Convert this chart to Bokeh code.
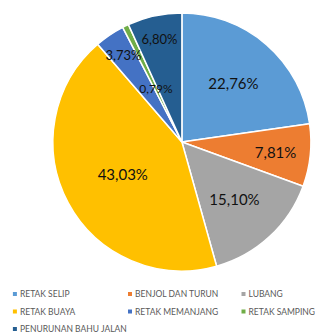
import numpy as np
from bokeh.plotting import figure
from bokeh.models import Range1d, ColumnDataSource
from bokeh.core.properties import value
from bokeh.embed import file_html
from bokeh.resources import INLINE

categories = ["RETAK SELIP", "BENJOL DAN TURUN", "LUBANG", "RETAK BUAYA",
              "RETAK MEMANJANG", "RETAK SAMPING", "PENURUNAN BAHU JALAN"]
values = [22.76, 7.81, 15.10, 43.03, 3.73, 0.79, 6.80]
labels = ["22,76%", "7,81%", "15,10%", "43,03%", "3,73%", "0,79%", "6,80%"]
colors = ["#5B9BD5", "#ED7D31", "#A5A5A5", "#FFC000", "#4472C4", "#70AD47", "#255E91"]

# label styling (radial fraction and font size per label)
label_r = [0.61, 0.73, 0.60, 0.52, 0.81, 0.46, 0.82]
label_size = ["15px", "15px", "15px", "15px", "13px", "12px", "13px"]

W, H = 315, 333
p = figure(width=W, height=H, output_backend="svg", toolbar_location=None,
           x_range=Range1d(0, W), y_range=Range1d(0, H), min_border=0)
p.axis.visible = False
p.grid.visible = False
p.outline_line_color = None
p.background_fill_color = "white"

cx, cy, R = 181.4, H - 141.5, 129.0

vals = np.array(values)
frac = vals / vals.sum()
cum_end = np.cumsum(frac)
cum_start = cum_end - frac
start = np.pi / 2 - 2 * np.pi * cum_end
end = np.pi / 2 - 2 * np.pi * cum_start
mid = (start + end) / 2

src = ColumnDataSource(dict(start=start, end=end, color=colors))
p.wedge(x=cx, y=cy, radius=R, start_angle="start", end_angle="end",
        fill_color="color", line_color="white", line_width=1.5, source=src)

lr = np.array(label_r) * R
lsrc = ColumnDataSource(dict(x=cx + lr * np.cos(mid), y=cy + lr * np.sin(mid),
                             text=labels, size=label_size))
p.text(x="x", y="y", text="text", source=lsrc, text_align="center",
       text_baseline="middle", text_font=value("Lato"), text_font_size="size",
       text_color="#111111")

# legend, 3 columns
idx = np.arange(len(categories))
col = idx % 3
row = idx // 3
col_x = np.array([14.4, 129.5, 243.0])
mx = col_x[col]
my = H - (293.5 + row * 17.5)
p.rect(x=mx, y=my, width=4, height=4, fill_color=colors, line_color=None)
p.text(x=mx + 5, y=my, text=categories, text_align="left", text_baseline="middle",
       text_font=value("Lato"), text_font_size="8.5px", text_color="#595959")

open("out.html", "w").write(file_html(p, INLINE))
